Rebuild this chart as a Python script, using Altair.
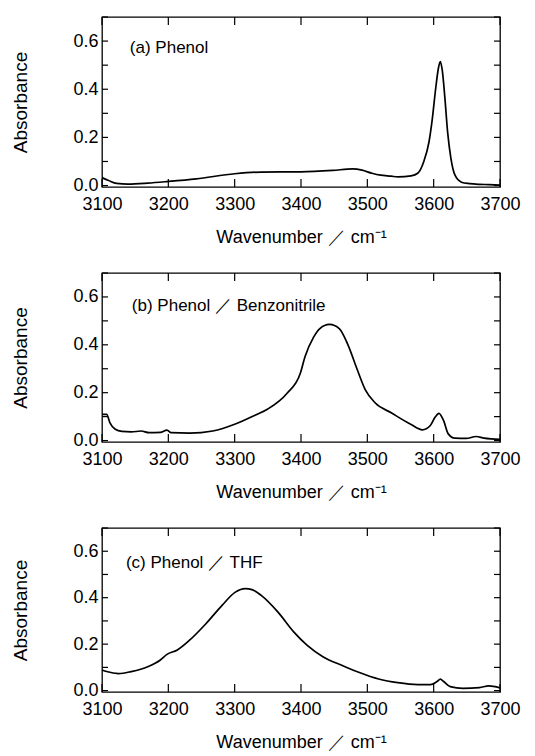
import altair as alt
import pandas as pd

# ---- data ----
A_WN = [3100, 3110, 3122, 3139, 3169, 3200, 3242, 3300, 3340, 3400, 3448, 3478, 3492, 3507,
        3520, 3536, 3546, 3566, 3576, 3585, 3593, 3598, 3603, 3607, 3610, 3613, 3617, 3621,
        3626, 3632, 3642, 3654, 3669, 3683, 3700]
A_ABS = [0.033, 0.021, 0.009, 0.006, 0.010, 0.017, 0.028, 0.049, 0.056, 0.057, 0.063, 0.069, 0.064, 0.051,
         0.043, 0.039, 0.036, 0.040, 0.051, 0.099, 0.182, 0.278, 0.402, 0.485, 0.515, 0.478, 0.361, 0.223,
         0.113, 0.044, 0.014, 0.008, 0.005, 0.004, 0.002]

B_WN = [3100, 3107, 3112, 3120, 3130, 3144, 3159, 3171, 3188, 3198, 3204, 3232, 3267, 3301, 3330,
        3350, 3379, 3399, 3406, 3419, 3428, 3443, 3458, 3470, 3485, 3497, 3512, 3536, 3566, 3583,
        3595, 3602, 3608, 3615, 3622, 3632, 3649, 3664, 3676, 3700]
B_ABS = [0.109, 0.109, 0.074, 0.047, 0.038, 0.036, 0.040, 0.033, 0.034, 0.044, 0.033, 0.031, 0.040, 0.069, 0.105,
         0.132, 0.198, 0.281, 0.350, 0.432, 0.467, 0.485, 0.467, 0.405, 0.295, 0.212, 0.157, 0.116, 0.067, 0.045,
         0.063, 0.097, 0.114, 0.083, 0.028, 0.010, 0.009, 0.017, 0.010, 0.005]

C_WN = [3100, 3107, 3125, 3144, 3169, 3188, 3198, 3213, 3232, 3257, 3281, 3301, 3316, 3326, 3340,
        3365, 3389, 3409, 3433, 3463, 3487, 3517, 3546, 3576, 3595, 3605, 3610, 3615, 3625, 3644,
        3669, 3683, 3700]
C_ABS = [0.089, 0.082, 0.073, 0.082, 0.103, 0.132, 0.156, 0.174, 0.217, 0.289, 0.367, 0.424, 0.439, 0.435, 0.410,
         0.339, 0.253, 0.196, 0.146, 0.107, 0.079, 0.050, 0.034, 0.026, 0.026, 0.039, 0.049, 0.039, 0.017, 0.010,
         0.013, 0.020, 0.012]

LABELS = ["(a) Phenol", "(b) Phenol ／ Benzonitrile", "(c) Phenol ／ THF"]
LABEL_WN = [3142, 3145, 3136]
LABEL_ABS = [0.549, 0.54, 0.527]

X_TICKS = [3100, 3200, 3300, 3400, 3500, 3600, 3700]
Y_TICKS = [0.0, 0.1, 0.2, 0.3, 0.4, 0.5, 0.6, 0.7]
Y_LABELED = [0.0, 0.2, 0.4, 0.6]

X_TITLE = "Wavenumber ／ cm⁻¹"
Y_TITLE = "Absorbance"

W = 398
HEIGHTS = [170, 169, 164]
XDOM = [3100, 3700]
YDOM = [-0.006, 0.7]
FONT = "Liberation Sans"

xs = alt.Scale(domain=XDOM, nice=False, zero=False)
ys = alt.Scale(domain=YDOM, nice=False, zero=False)
xax = alt.Axis(values=X_TICKS, format="d", labelPadding=8, titlePadding=15, title=X_TITLE,
               labelFlush=False, grid=False, domain=False, ticks=False)
yax = alt.Axis(values=Y_LABELED, format=".1f", labelPadding=4, titlePadding=42, title=Y_TITLE,
               labelFlush=False, titleFontSize=19, grid=False, domain=False, ticks=False)


def panel(wn, ab, label, lwn, lab, h):
    df = pd.DataFrame({"wn": wn, "a": ab})
    line = alt.Chart(df).mark_line(color="black", strokeWidth=1.7, interpolate="monotone").encode(
        x=alt.X("wn:Q", scale=xs, axis=xax), y=alt.Y("a:Q", scale=ys, axis=yax))
    xt = pd.DataFrame({"wn": X_TICKS})
    yt = pd.DataFrame({"a": Y_TICKS})
    top_t = alt.Chart(xt).mark_rule(color="black", strokeWidth=1.2, opacity=1).encode(
        x=alt.X("wn:Q", scale=xs, axis=None), y=alt.value(0), y2=alt.value(8))
    bot_t = alt.Chart(xt).mark_rule(color="black", strokeWidth=1.2, opacity=1).encode(
        x=alt.X("wn:Q", scale=xs, axis=None), y=alt.value(h), y2=alt.value(h - 8))
    left_t = alt.Chart(yt).mark_rule(color="black", strokeWidth=1.2, opacity=1).encode(
        y=alt.Y("a:Q", scale=ys, axis=None), x=alt.value(0), x2=alt.value(6))
    right_t = alt.Chart(yt).mark_rule(color="black", strokeWidth=1.2, opacity=1).encode(
        y=alt.Y("a:Q", scale=ys, axis=None), x=alt.value(W - 6), x2=alt.value(W))
    tdf = pd.DataFrame({"wn": [lwn], "a": [lab], "t": [label]})
    txt = alt.Chart(tdf).mark_text(align="left", baseline="alphabetic", font=FONT,
                                   fontSize=17, color="black").encode(
        x=alt.X("wn:Q", scale=xs, axis=None), y=alt.Y("a:Q", scale=ys, axis=None), text="t:N")
    return alt.layer(line, top_t, bot_t, left_t, right_t, txt).resolve_axis(
        x="independent", y="independent").properties(width=W, height=h)


panels = [
    panel(A_WN, A_ABS, LABELS[0], LABEL_WN[0], LABEL_ABS[0], HEIGHTS[0]),
    panel(B_WN, B_ABS, LABELS[1], LABEL_WN[1], LABEL_ABS[1], HEIGHTS[1]),
    panel(C_WN, C_ABS, LABELS[2], LABEL_WN[2], LABEL_ABS[2], HEIGHTS[2]),
]

chart = alt.vconcat(*panels, spacing=24).properties(
    padding={"left": 3, "top": 7, "right": 5, "bottom": 5}
).configure(background="white").configure_view(stroke="black", strokeWidth=1.3).configure_axis(
    labelFont=FONT, labelFontSize=18, labelColor="black",
    titleFont=FONT, titleFontSize=18, titleFontWeight="normal", titleColor="black",
)

chart.save("out.html", embed_options={"renderer": "svg", "actions": False})
